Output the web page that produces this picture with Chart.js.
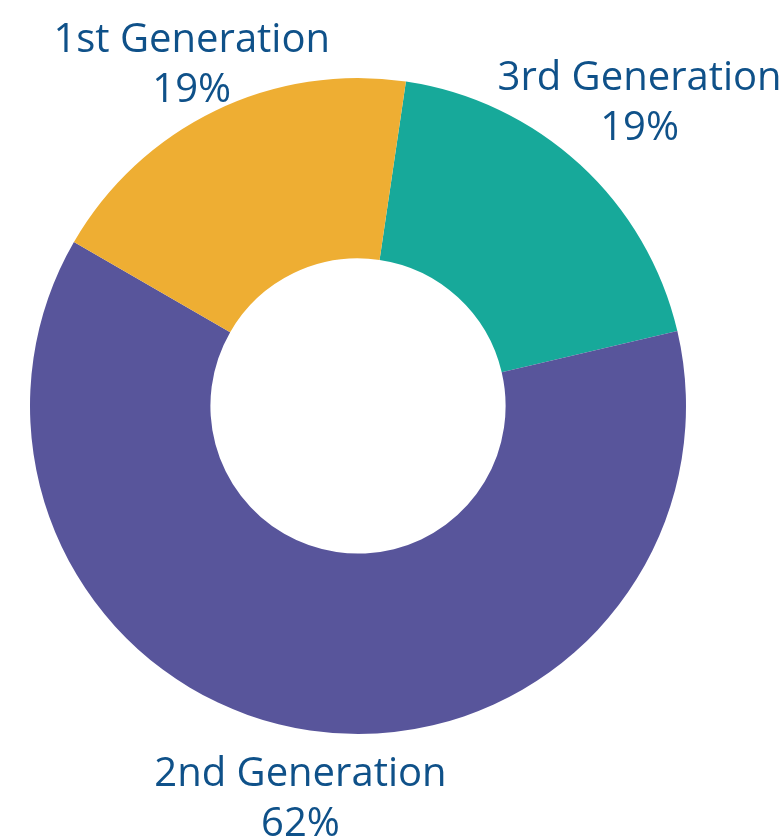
<!DOCTYPE html>
<html>
<head>
<meta charset="utf-8">
<script src="https://cdn.jsdelivr.net/npm/chart.js@4"></script>
<style>
  html, body { margin: 0; padding: 0; background: #fff; }
  #wrap { width: 783px; height: 840px; }
</style>
</head>
<body>
<div id="wrap"><canvas id="donut"></canvas></div>
<script>
// clockwise from the top
var categories = ['3rd Generation', '2nd Generation', '1st Generation'];
var shares = [19, 62, 19];
var colors = ['#17a99a', '#58559b', '#eeae33'];

// labels outside the ring, two lines each
var outerLabels = {
    id: 'outerLabels',
    afterDraw: function (chart, args, opts) {
        var ctx = chart.ctx;
        var meta = chart.getDatasetMeta(0);
        ctx.save();
        ctx.fillStyle = opts.color;
        ctx.font = opts.font;
        ctx.textAlign = 'center';
        ctx.textBaseline = 'alphabetic';
        meta.data.forEach(function (arc, i) {
            var mid = (arc.startAngle + arc.endAngle) / 2;
            var r = arc.outerRadius + opts.gap[i];
            var x = arc.x + Math.cos(mid) * r;
            var y = arc.y + Math.sin(mid) * r;
            ctx.fillText(categories[i], x, y - 10);
            ctx.fillText(shares[i] + '%', x, y + 40);
        });
        ctx.restore();
    }
};

var ctx = document.getElementById('donut').getContext('2d');
var donut = new Chart(ctx, {
    type: 'doughnut',
    data: {
        labels: categories,
        datasets: [{
            data: shares,
            backgroundColor: colors,
            borderWidth: 0
        }]
    },
    options: {
        responsive: true,
        maintainAspectRatio: false,
        animation: false,
        rotation: 8.4,
        cutout: '45%',
        layout: {
            padding: { left: 30, right: 97, top: 78, bottom: 106 }
        },
        plugins: {
            legend: { display: false },
            tooltip: { enabled: false },
            outerLabels: {
                color: '#0f5189',
                font: '40px "Open Sans"',
                gap: [88, 66, 54]
            }
        }
    },
    plugins: [outerLabels]
});
</script>
</body>
</html>
